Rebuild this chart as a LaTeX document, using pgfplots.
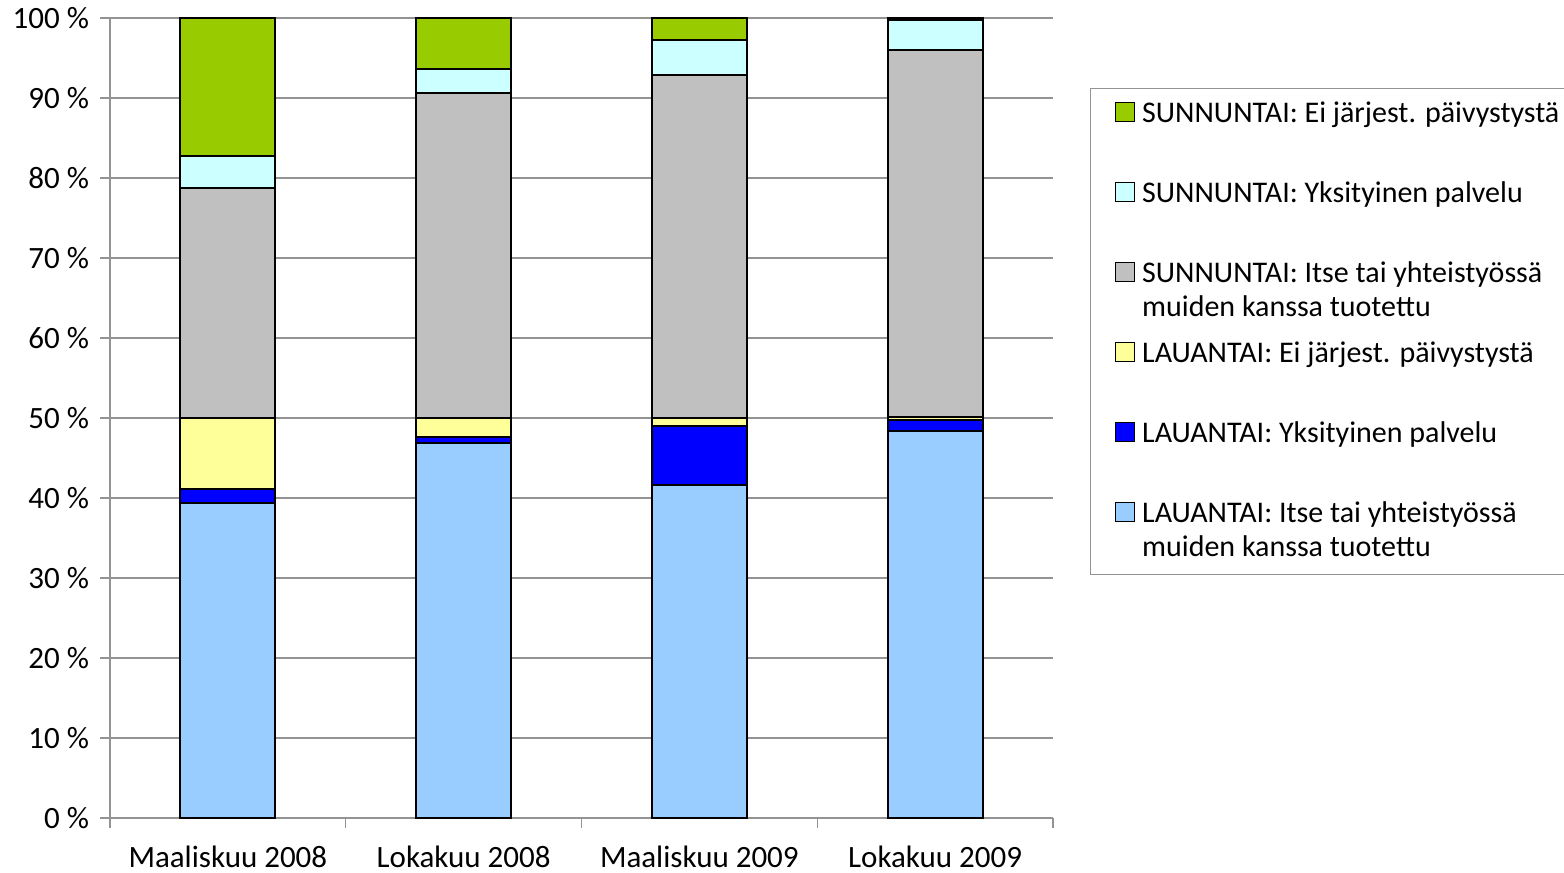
\documentclass[border=0pt]{standalone}
\usepackage{pgfplots}
\pgfplotsset{compat=1.18}
\usepackage{pgfplotstable}
\usepackage{fontspec}
\setmainfont{Carlito}

\definecolor{lauitse}{HTML}{99CCFF}
\definecolor{lauyks}{HTML}{0000FF}
\definecolor{lauei}{HTML}{FFFF99}
\definecolor{sunitse}{HTML}{C0C0C0}
\definecolor{sunyks}{HTML}{CCFFFF}
\definecolor{sunei}{HTML}{99CC00}

\newcommand\chartfont{\fontsize{15.5pt}{17pt}\selectfont}
\newcommand\legfont{\fontsize{15pt}{17pt}\selectfont}

% shares in percent, x = 0..3 for the four survey rounds
\pgfplotstableread{
x  lit  lyk  lei  sit  syk  sei
0  39.4 1.7  8.9  28.8 4.0  17.2
1  46.9 0.7  2.4  40.6 3.0  6.4
2  41.6 7.4  1.0  42.9 4.4  2.7
3  48.4 1.4  0.3  45.9 3.7  0.3
}\data

\begin{document}
\begin{tikzpicture}
\begin{axis}[
    scale only axis,
    width=471.5pt, height=400pt,
    ybar stacked, bar width=47.5pt,
    xmin=-0.5, xmax=3.5, ymin=0, ymax=100,
    xtick={0,1,2,3},
    xticklabels={Maaliskuu 2008, Lokakuu 2008, Maaliskuu 2009, Lokakuu 2009},
    minor xtick={-0.5,0.5,1.5,2.5,3.5},
    major x tick style={draw=none},
    ytick={0,10,...,100},
    yticklabel={\pgfmathprintnumber{\tick}~\%},
    ymajorgrids,
    grid style={gray!85, line width=0.6pt},
    axis x line*=bottom, axis y line*=left,
    axis line style={gray!85, line width=0.6pt, -},
    tick align=outside, major tick length=5pt, minor tick length=5pt,
    tick style={gray!85, line width=0.6pt},
    tick label style={font=\chartfont},
    /pgf/number format/assume math mode=true,
    xticklabel style={inner ysep=0pt, yshift=-9pt},
    yticklabel style={xshift=-2pt},
    every axis plot/.append style={draw=black, line width=1pt},
    legend reversed,
    legend cell align=left,
    legend image code/.code={\draw[#1, line width=0.8pt] (0pt,5pt) rectangle (9.5pt,14.5pt);},
    legend style={
        at={(1,1)}, anchor=north west, xshift=18.5pt, yshift=-35pt,
        draw=gray!85, line width=0.6pt,
        font=\legfont,
        inner xsep=12pt, inner ysep=6pt,
        row sep=9pt,
        nodes={inner xsep=3.5pt, inner ysep=0pt, text height=11pt, text depth=20pt},
    },
]
\addplot[fill=lauitse] table[x=x, y=lit] {\data};
\addlegendentry{\parbox[t]{220pt}{LAUANTAI: Itse tai yhteistyössä\\muiden kanssa tuotettu}}
\addplot[fill=lauyks] table[x=x, y=lyk] {\data};
\addlegendentry{LAUANTAI: Yksityinen palvelu}
\addplot[fill=lauei] table[x=x, y=lei] {\data};
\addlegendentry{LAUANTAI: Ei järjest. päivystystä}
\addplot[fill=sunitse] table[x=x, y=sit] {\data};
\addlegendentry{\parbox[t]{220pt}{SUNNUNTAI: Itse tai yhteistyössä\\muiden kanssa tuotettu}}
\addplot[fill=sunyks] table[x=x, y=syk] {\data};
\addlegendentry{SUNNUNTAI: Yksityinen palvelu}
\addplot[fill=sunei] table[x=x, y=sei] {\data};
\addlegendentry{SUNNUNTAI: Ei järjest. päivystystä}
\end{axis}
\pgfresetboundingbox
\path ([shift={(-55pt,-27.5pt)}]current axis.south west)
      rectangle ([shift={(255.5pt,9pt)}]current axis.north east);
\end{tikzpicture}
\end{document}
